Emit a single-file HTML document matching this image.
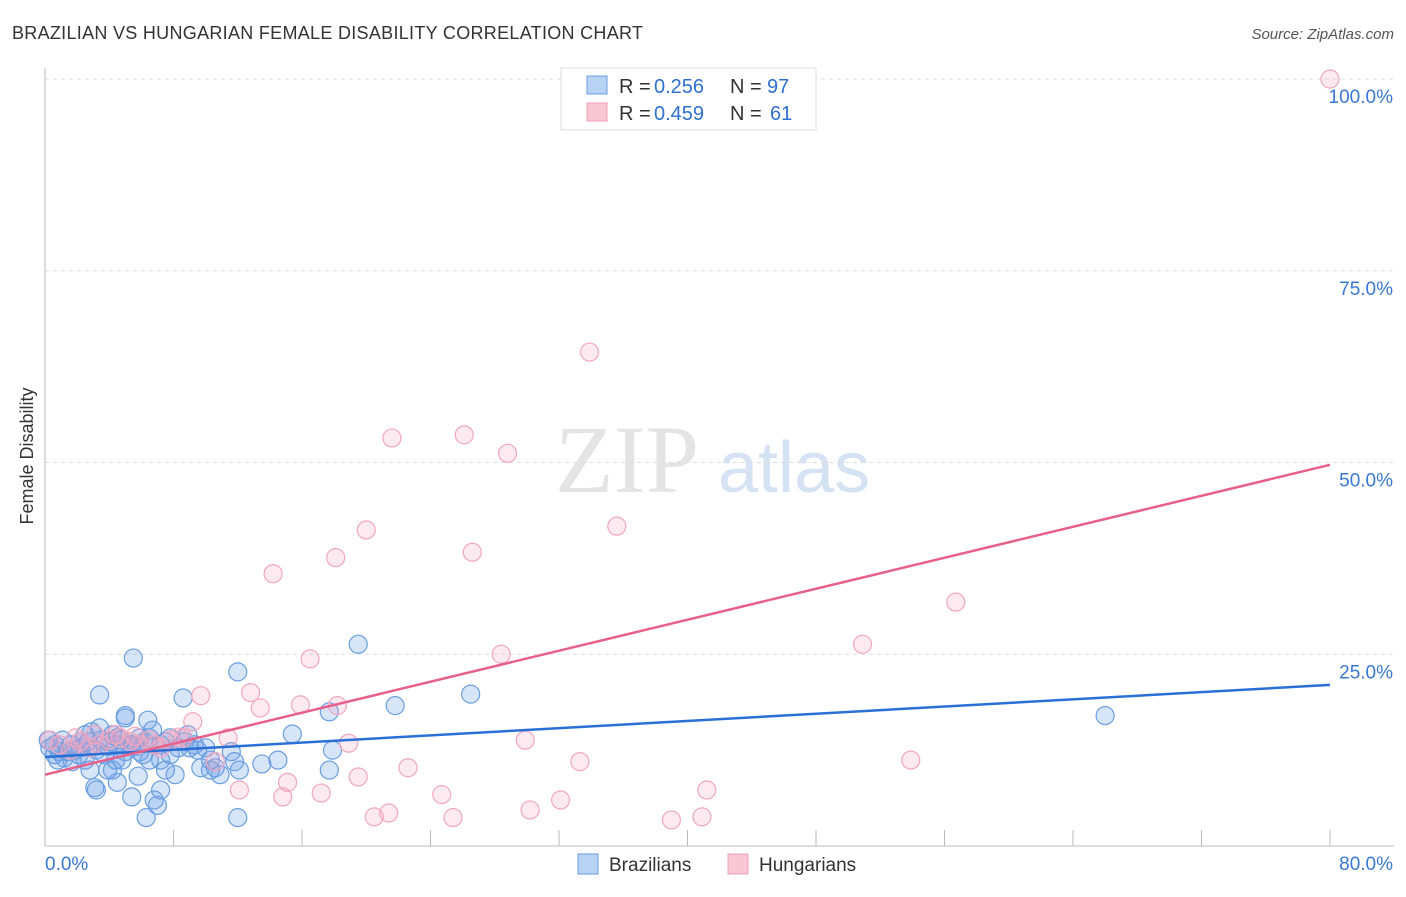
<!DOCTYPE html>
<html><head><meta charset="utf-8"><style>
body{margin:0;background:#fff;font-family:"Liberation Sans",sans-serif}
</style></head><body>
<svg width="1406" height="892" xmlns="http://www.w3.org/2000/svg">
<text x="12" y="39" font-size="18" fill="#333" textLength="631">BRAZILIAN VS HUNGARIAN FEMALE DISABILITY CORRELATION CHART</text>
<text x="1394" y="39" font-size="15" fill="#555" text-anchor="end" font-style="italic">Source: ZipAtlas.com</text>
<text x="33" y="456" font-size="18" fill="#333" text-anchor="middle" transform="rotate(-90 33 456)">Female Disability</text>
<text x="555" y="492" font-size="96" fill="#e4e4e4" font-family="Liberation Serif,serif">ZIP</text>
<text x="718" y="492" font-size="72" fill="#d4e2f4">atlas</text>
<g id="grid"></g>
<g id="marks"></g>
<g>
<rect x="561" y="68" width="255" height="62" fill="#fff" stroke="#ddd"/>
<rect x="587" y="76" width="20" height="18" fill="#b8d2f4" stroke="#6a9ee0"/>
<rect x="587" y="103" width="20" height="18" fill="#f9c6d6" stroke="#f0a0b8"/>
<text x="619" y="93" font-size="20" fill="#333">R =</text><text x="654" y="93" font-size="20" fill="#3070d0">0.256</text>
<text x="730" y="93" font-size="20" fill="#333">N =</text><text x="767" y="93" font-size="20" fill="#3070d0">97</text>
<text x="619" y="120" font-size="20" fill="#333">R =</text><text x="654" y="120" font-size="20" fill="#3070d0">0.459</text>
<text x="730" y="120" font-size="20" fill="#333">N =</text><text x="770" y="120" font-size="20" fill="#3070d0">61</text>
</g>
<g>
<rect x="578" y="854" width="20" height="20" fill="#b8d2f4" stroke="#6a9ee0"/>
<text x="609" y="871" font-size="19" fill="#333">Brazilians</text>
<rect x="728" y="854" width="20" height="20" fill="#f9c6d6" stroke="#f0a0b8"/>
<text x="759" y="871" font-size="19" fill="#333">Hungarians</text>
</g>
</svg>
<script>
const yTicks=[25,50,75,100];
const yTickLabels=["25.0%","50.0%","75.0%","100.0%"];
const xTicks=[0,8,16,24,32,40,48,56,64,72,80];
const bx=[0.3,0.6,0.9,1.2,1.6,1.9,2.2,2.5,2.8,3.1,3.2,3.4,3.4,3.7,3.9,4.0,4.4,4.5,4.7,5.0,5.0,5.3,5.4,5.8,5.9,6.2,6.4,6.5,6.7,6.8,7.0,7.2,7.2,7.5,7.8,8.1,8.6,8.9,9.0,9.3,9.7,10.0,10.3,10.6,10.9,11.6,11.8,12.0,12.1,12.0,13.5,14.5,15.4,17.7,17.9,17.7,19.5,21.8,26.5,66.0,5.5,6.3,5.4,2.5,1.1,0.6,1.7,2.8,4.2,5.0,5.9,7.2,7.8,8.3,8.7,9.5,2.9,3.5,4.5,6.1,1.4,0.8,2.1,2.7,3.2,3.9,4.2,4.8,5.7,6.5,7.5,10.3,4.4,2.2,0.2];
const by=[12.8,11.9,12.3,11.5,13.2,12.5,13.6,11.2,9.9,7.6,7.3,19.7,15.4,11.9,9.9,13.6,13.2,8.3,13.8,17.0,16.7,13.2,6.4,9.1,12.3,13.6,16.4,11.2,15.1,6.0,5.3,7.3,11.2,9.9,11.9,9.3,19.3,14.5,12.8,13.2,10.2,12.8,9.9,10.2,9.3,12.3,11.0,22.7,9.9,3.7,10.7,11.2,14.6,17.5,12.5,9.9,26.3,18.3,19.8,17.0,24.5,3.7,13.2,14.5,13.8,13.2,11.0,12.8,9.9,12.3,14.1,13.2,14.1,12.8,13.6,12.5,14.9,13.8,14.1,11.9,12.3,11.2,11.9,13.6,12.5,13.0,14.5,11.2,13.0,14.1,13.6,11.2,11.2,12.8,13.8];
const hx=[80.0,33.9,21.6,26.1,28.8,20.0,35.6,26.6,18.1,14.2,56.7,50.9,16.5,28.4,12.8,9.7,13.4,15.9,18.2,9.2,11.4,18.9,29.9,8.3,7.8,53.9,33.3,22.6,19.5,10.6,15.1,12.1,17.2,14.8,24.7,32.1,41.2,21.4,20.5,25.4,30.2,39.0,40.9,0.3,0.9,1.6,2.2,2.8,3.4,4.0,4.7,5.3,5.9,6.5,7.2,1.9,3.1,4.4,5.6,6.8,8.6];
const hy=[100,64.4,53.2,53.6,51.2,41.2,41.7,38.3,37.6,35.5,31.8,26.3,24.4,25.0,20.0,19.6,18.0,18.4,18.3,16.2,14.1,13.4,13.8,14.2,13.8,11.2,11.0,10.2,9.0,11.0,8.3,7.3,6.9,6.4,6.7,6.0,7.3,4.3,3.8,3.7,4.7,3.4,3.8,13.8,13.2,12.5,13.6,12.8,13.2,13.8,14.1,13.6,13.2,13.8,12.8,14.1,14.5,14.5,14.3,13.2,14.1];
const blueTrend=[11.6,21.0];
const pinkTrend=[9.3,49.7];
const X=v=>45+v/80*1285, Y=v=>846-v*7.67;
const NS="http://www.w3.org/2000/svg";
function mk(t,a,p){const e=document.createElementNS(NS,t);for(const k in a)e.setAttribute(k,a[k]);p.appendChild(e);return e;}
const g=document.getElementById('grid'), m=document.getElementById('marks');
yTicks.forEach((t,i)=>{
 const l=mk('line',{x1:45,x2:1394,y1:Y(t),y2:Y(t),stroke:'#ddd','stroke-dasharray':'4,4'},g);
 
 
 const tx=mk('text',{x:1393,y:Y(t)+24,'font-size':19,fill:'#3a78d4','text-anchor':'end'},g);
 tx.textContent=yTickLabels[i];
 
 
});
const ax=mk('line',{x1:45,x2:45,y1:68,y2:846,stroke:'#bbb'},g);


const bxl=mk('line',{x1:45,x2:1394,y1:846,y2:846,stroke:'#bbb'},g);


xTicks.forEach(t=>{
 const l=mk('line',{x1:X(t),x2:X(t),y1:830,y2:846,stroke:'#bbb'},g);
 
 
});
const x0=mk('text',{x:45,y:870,'font-size':19,fill:'#3a78d4'},g);x0.textContent='0.0%';


const x1=mk('text',{x:1393,y:870,'font-size':19,fill:'#3a78d4','text-anchor':'end'},g);x1.textContent='80.0%';


bx.forEach((v,i)=>{
 const c=mk('circle',{cx:X(v),cy:Y(by[i]),r:9,fill:'rgba(110,160,230,0.28)',stroke:'#6a9ee0','stroke-width':1.2},m);
 
 
});
hx.forEach((v,i)=>{
 const c=mk('circle',{cx:X(v),cy:Y(hy[i]),r:9,fill:'rgba(245,160,190,0.22)',stroke:'#f2a6be','stroke-width':1.2},m);
 
 
});
const bl=mk('line',{x1:X(0),x2:X(80),y1:Y(blueTrend[0]),y2:Y(blueTrend[1]),stroke:'#2a6fd6','stroke-width':2.5},m);


const pl=mk('line',{x1:X(0),x2:X(80),y1:Y(pinkTrend[0]),y2:Y(pinkTrend[1]),stroke:'#e8608a','stroke-width':2.5},m);


</script>
</body></html>
